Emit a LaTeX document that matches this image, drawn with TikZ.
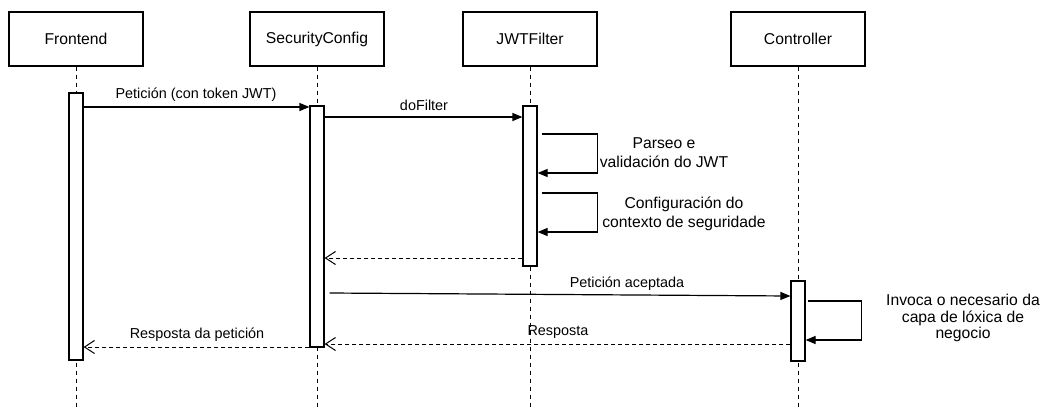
\documentclass[tikz,border=0pt]{standalone}
\usepackage{fontspec}
\setmainfont{Liberation Sans}
\usetikzlibrary{arrows.meta,calc}
\tikzset{
  head/.style={draw, line width=1.2pt, fill=white, minimum width=134pt, minimum height=54pt,
    inner sep=0pt, font=\fontsize{15.7}{19}\selectfont},
  bar/.style={draw, line width=1.2pt, fill=white, minimum width=14pt, inner sep=0pt},
  life/.style={line width=1pt, dash pattern=on 4pt off 4pt},
  msg/.style={line width=1.2pt, -{Triangle[length=10pt,width=8pt]}},
  ret/.style={line width=1pt, dash pattern=on 4pt off 3pt, -{Straight Barb[length=10pt,width=13pt,line width=1pt]}},
  lbl/.style={inner sep=0pt, font=\fontsize{14.4}{17}\selectfont},
  note/.style={inner sep=0pt, align=center, font=\fontsize{15.7}{19}\selectfont},
}
\begin{document}
\begin{tikzpicture}[x=1pt,y=-1pt]
\useasboundingbox (0,0) rectangle (1044,408);
\fill[white] (0,0) rectangle (1044,408);

% lifeline heads
\node[head] (fh) at (76,39) {Frontend};
\node[head] (sh) at (317,39) {SecurityConfig};
\node[head] (jh) at (530,39) {JWTFilter};
\node[head] (ch) at (798,39) {Controller};

% lifelines
\coordinate (bot) at (0,408);
\foreach \h in {fh,sh,jh,ch}
  \draw[life] (\h.south) -- (\h.south |- bot);

% activation bars
\node[bar, minimum height=267pt] (fa) at (76,226.5) {};
\node[bar, minimum height=241pt] (sa) at (317,226.5) {};
\node[bar, minimum height=160pt] (ja) at (530,186) {};
\node[bar, minimum height=80pt] (ca) at (798,321) {};

% message rows
\coordinate (r1) at (0,107);
\coordinate (r2) at (0,117);
\coordinate (r3a) at (0,134);
\coordinate (r3b) at (0,173);
\coordinate (r4a) at (0,193);
\coordinate (r4b) at (0,232);
\coordinate (r5) at (0,258);
\coordinate (r6a) at (0,293);
\coordinate (r6b) at (0,296);
\coordinate (r7a) at (0,301);
\coordinate (r7b) at (0,340);
\coordinate (r8) at (0,344);
\coordinate (r9) at (0,347);

% Frontend -> SecurityConfig
\draw[msg] (fa.east |- r1) -- (sa.west |- r1);
\node[lbl] (m1) at (196,95) {Petición (con token JWT)};

% SecurityConfig -> JWTFilter
\draw[msg] (sa.east |- r2) -- (ja.west |- r2);
\node[lbl] (m2) at (424,105) {doFilter};

% JWTFilter self calls
\draw[msg] ($(ja.east |- r3a)+(4,0)$) -- ++(56,0) -- ++(0,39) -- (ja.east |- r3b);
\node[note] (n1) at (664,152.5) {Parseo e\\validación do JWT};
\draw[msg] ($(ja.east |- r4a)+(4,0)$) -- ++(56,0) -- ++(0,39) -- (ja.east |- r4b);
\node[note] (n2) at (684,213.5) {Configuración do\\contexto de seguridade};

% JWTFilter returns to SecurityConfig
\draw[ret] (ja.west |- r5) -- (sa.east |- r5);

% SecurityConfig -> Controller
\draw[msg] ($(sa.east |- r6a)+(5,0)$) -- (ca.west |- r6b);
\node[lbl] (m6) at (627,284) {Petición aceptada};

% Controller self call
\draw[msg] ($(ca.east |- r7a)+(2,0)$) -- ++(54,0) -- ++(0,39) -- (ca.east |- r7b);
\node[note, font=\fontsize{15.7}{16.5}\selectfont] (n3) at (963,318) {Invoca o necesario da\\capa de lóxica de\\negocio};

% Controller returns to SecurityConfig
\draw[ret] (ca.west |- r8) -- (sa.east |- r8);
\node[lbl] (m8) at (558,332) {Resposta};

% SecurityConfig returns to Frontend
\draw[ret] (sa.west |- r9) -- (fa.east |- r9);
\node[lbl] (m9) at (197,335) {Resposta da petición};
\end{tikzpicture}
\end{document}
